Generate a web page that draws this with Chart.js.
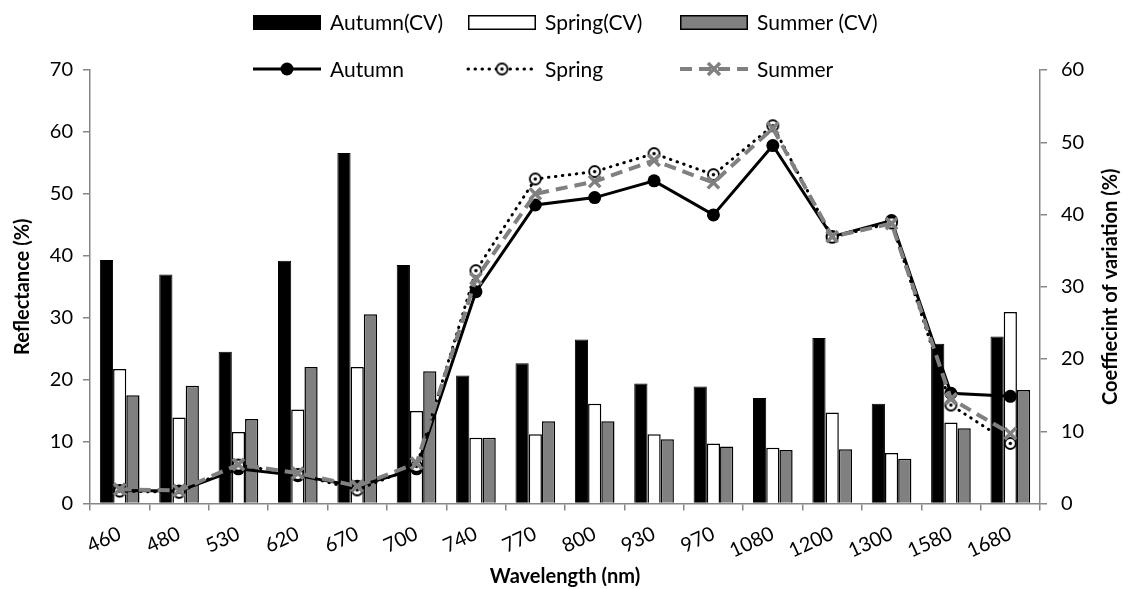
<!DOCTYPE html>
<html>
<head>
<meta charset="utf-8">
<title>Reflectance and coefficient of variation by wavelength</title>
<script src="https://cdn.jsdelivr.net/npm/chart.js@4/dist/chart.umd.min.js"></script>
<style>
  html, body { margin: 0; padding: 0; background: #fff; }
  canvas { display: block; }
</style>
</head>
<body>
<canvas id="chart" width="1128" height="589"></canvas>
<script>
// Wavelength bands (nm)
const wavelengths = ['460', '480', '530', '620', '670', '700', '740', '770', '800', '930', '970', '1080', '1200', '1300', '1580', '1680'];

// Mean reflectance (%) per season
const autumnReflectance = [2.1, 2.0, 5.6, 4.5, 2.8, 5.6, 34.2, 48.2, 49.4, 52.1, 46.6, 57.8, 43.1, 45.7, 17.8, 17.3];
const springReflectance = [2.0, 1.8, 6.2, 4.7, 2.2, 6.0, 37.6, 52.4, 53.6, 56.5, 53.1, 61.0, 43.0, 45.3, 15.9, 9.7];
const summerReflectance = [2.3, 2.1, 6.3, 4.9, 2.8, 6.5, 36.3, 50.0, 52.0, 55.4, 51.8, 60.6, 43.1, 45.2, 16.9, 11.3];

// Coefficient of variation (%) per season
const autumnCV = [33.7, 31.7, 21.0, 33.6, 48.5, 33.0, 17.7, 19.4, 22.7, 16.6, 16.2, 14.6, 22.9, 13.8, 22.1, 23.1];
const springCV = [18.6, 11.9, 9.9, 13.0, 18.9, 12.8, 9.1, 9.6, 13.8, 9.6, 8.3, 7.7, 12.6, 7.0, 11.2, 26.5];
const summerCV = [15.0, 16.3, 11.7, 18.9, 26.2, 18.3, 9.1, 11.4, 11.4, 8.9, 7.9, 7.4, 7.5, 6.2, 10.4, 15.7];

const FONT = 'Lato, "Open Sans", sans-serif';
const AXIS_GREY = '#868686';
const SUMMER_GREY = '#808080';

// Open circle with a centre dot, used as the Spring marker
function ringDot(r) {
  const c = document.createElement('canvas');
  const s = Math.ceil(r * 2 + 4);
  c.width = s; c.height = s;
  const g = c.getContext('2d');
  g.fillStyle = '#fff';
  g.strokeStyle = '#000';
  g.lineWidth = 1.8;
  g.beginPath(); g.arc(s / 2, s / 2, r, 0, Math.PI * 2); g.fill(); g.stroke();
  g.fillStyle = '#000';
  g.beginPath(); g.arc(s / 2, s / 2, 1.7, 0, Math.PI * 2); g.fill();
  return c;
}
const springMarker = ringDot(5.5);

// Two-row legend: bar series on top, line series below
const legendPlugin = {
  id: 'twoRowLegend',
  afterDraw(chart) {
    const ctx = chart.ctx;
    const cols = [253, 468, 680];
    const boxW = 68, boxH = 15, textGap = 77;
    const row1 = 22.5, row2 = 69;
    const ds = chart.data.datasets;
    const bars = ds.filter(d => d.type === 'bar');
    const lines = ds.filter(d => d.type === 'line');
    ctx.save();
    ctx.font = '21px ' + FONT;
    ctx.textBaseline = 'middle';
    ctx.fillStyle = '#000';
    bars.forEach((d, i) => {
      const x = cols[i];
      ctx.fillStyle = d.backgroundColor;
      ctx.fillRect(x, row1 - boxH / 2, boxW, boxH);
      ctx.lineWidth = 1.5;
      ctx.strokeStyle = d.borderColor;
      ctx.strokeRect(x + 0.75, row1 - boxH / 2 + 0.75, boxW - 1.5, boxH - 1.5);
      ctx.fillStyle = '#000';
      ctx.fillText(d.label, x + textGap, row1 + 1);
    });
    lines.forEach((d, i) => {
      const x = cols[i];
      const mid = x + boxW / 2;
      ctx.save();
      ctx.strokeStyle = d.borderColor;
      ctx.lineWidth = d.borderWidth;
      ctx.lineCap = d.borderCapStyle || 'butt';
      ctx.setLineDash(d.borderDash || []);
      ctx.beginPath(); ctx.moveTo(x, row2); ctx.lineTo(x + boxW, row2); ctx.stroke();
      ctx.setLineDash([]);
      if (d.pointStyle === 'circle') {
        ctx.fillStyle = d.pointBackgroundColor;
        ctx.beginPath(); ctx.arc(mid, row2, d.pointRadius, 0, Math.PI * 2); ctx.fill();
      } else if (d.pointStyle === 'crossRot') {
        const r = d.pointRadius * 0.75;
        ctx.strokeStyle = d.pointBorderColor;
        ctx.lineWidth = d.pointBorderWidth;
        ctx.beginPath();
        ctx.moveTo(mid - r, row2 - r); ctx.lineTo(mid + r, row2 + r);
        ctx.moveTo(mid + r, row2 - r); ctx.lineTo(mid - r, row2 + r);
        ctx.stroke();
      } else if (d.pointStyle instanceof HTMLCanvasElement) {
        const img = d.pointStyle;
        ctx.drawImage(img, mid - img.width / 2, row2 - img.height / 2);
      }
      ctx.restore();
      ctx.fillStyle = '#000';
      ctx.fillText(d.label, x + textGap, row2 + 1);
    });
    ctx.restore();
  }
};

// Right-hand axis title, reading bottom to top
const rightTitlePlugin = {
  id: 'rightTitle',
  afterDraw(chart) {
    const ctx = chart.ctx;
    const a = chart.chartArea;
    ctx.save();
    ctx.translate(1111, (a.top + a.bottom) / 2);
    ctx.rotate(-Math.PI / 2);
    ctx.font = 'bold 20px ' + FONT;
    ctx.fillStyle = '#000';
    ctx.textAlign = 'center';
    ctx.textBaseline = 'middle';
    ctx.fillText('Coeffiecint of variation (%)', 0, 0);
    ctx.restore();
  }
};

const lineBase = { type: 'line', yAxisID: 'y', tension: 0, fill: false };
const barBase = { type: 'bar', yAxisID: 'y1', borderColor: '#000', categoryPercentage: 0.668, barPercentage: 1.0, order: 5 };

new Chart(document.getElementById('chart'), {
  data: {
    labels: wavelengths,
    datasets: [
      { ...barBase, label: 'Autumn(CV)', data: autumnCV, backgroundColor: '#000', borderWidth: 1 },
      { ...barBase, label: 'Spring(CV)', data: springCV, backgroundColor: '#fff', borderWidth: 1.5 },
      { ...barBase, label: 'Summer (CV)', data: summerCV, backgroundColor: SUMMER_GREY, borderWidth: 1.5 },
      { ...lineBase, label: 'Autumn', data: autumnReflectance, order: 2,
        borderColor: '#000', borderWidth: 3, pointStyle: 'circle', pointRadius: 6.5,
        pointBackgroundColor: '#000', pointBorderColor: '#000', pointBorderWidth: 0 },
      { ...lineBase, label: 'Spring', data: springReflectance, order: 1,
        borderColor: '#000', borderWidth: 3, borderDash: [0.5, 6.5], borderCapStyle: 'round',
        pointStyle: springMarker, pointRadius: 6 },
      { ...lineBase, label: 'Summer', data: summerReflectance, order: 0,
        borderColor: SUMMER_GREY, borderWidth: 4, borderDash: [12, 7],
        pointStyle: 'crossRot', pointRadius: 8, pointBorderColor: SUMMER_GREY,
        pointBackgroundColor: SUMMER_GREY, pointBorderWidth: 3.5 }
    ]
  },
  options: {
    responsive: false,
    devicePixelRatio: 1,
    animation: false,
    layout: { padding: { top: 70, right: 0, bottom: 0, left: 0 } },
    plugins: { legend: { display: false }, tooltip: { enabled: false } },
    scales: {
      x: {
        type: 'category',
        offset: true,
        grid: { offset: true, drawOnChartArea: false, drawTicks: true, tickLength: 7, color: AXIS_GREY, lineWidth: 1.5 },
        border: { color: AXIS_GREY, width: 1.5 },
        ticks: { color: '#000', font: { family: FONT, size: 20 }, minRotation: 25, maxRotation: 25, autoSkip: false, padding: 11 },
        title: { display: true, text: 'Wavelength (nm)', color: '#000', font: { family: FONT, size: 20, weight: 'bold' }, padding: { top: 0, bottom: 0 } },
        afterFit: s => { s.height = 85.5; }
      },
      y: {
        position: 'left',
        min: 0, max: 70,
        grid: { drawOnChartArea: false, drawTicks: true, tickLength: 7, color: AXIS_GREY, lineWidth: 1.5 },
        border: { color: AXIS_GREY, width: 1.5 },
        ticks: { stepSize: 10, color: '#000', font: { family: FONT, size: 20 }, padding: 10 },
        title: { display: true, text: 'Reflectance (%)', color: '#000', font: { family: FONT, size: 20, weight: 'bold' }, padding: { top: 11, bottom: 0 } },
        afterFit: s => { s.width = 90; }
      },
      y1: {
        position: 'right',
        min: 0, max: 60,
        grid: { drawOnChartArea: false, drawTicks: true, tickLength: 7, color: AXIS_GREY, lineWidth: 1.5 },
        border: { color: AXIS_GREY, width: 1.5 },
        ticks: { stepSize: 10, color: '#000', font: { family: FONT, size: 20 }, padding: 14 },
        afterFit: s => { s.width = 88; }
      }
    }
  },
  plugins: [legendPlugin, rightTitlePlugin]
});
</script>
</body>
</html>
